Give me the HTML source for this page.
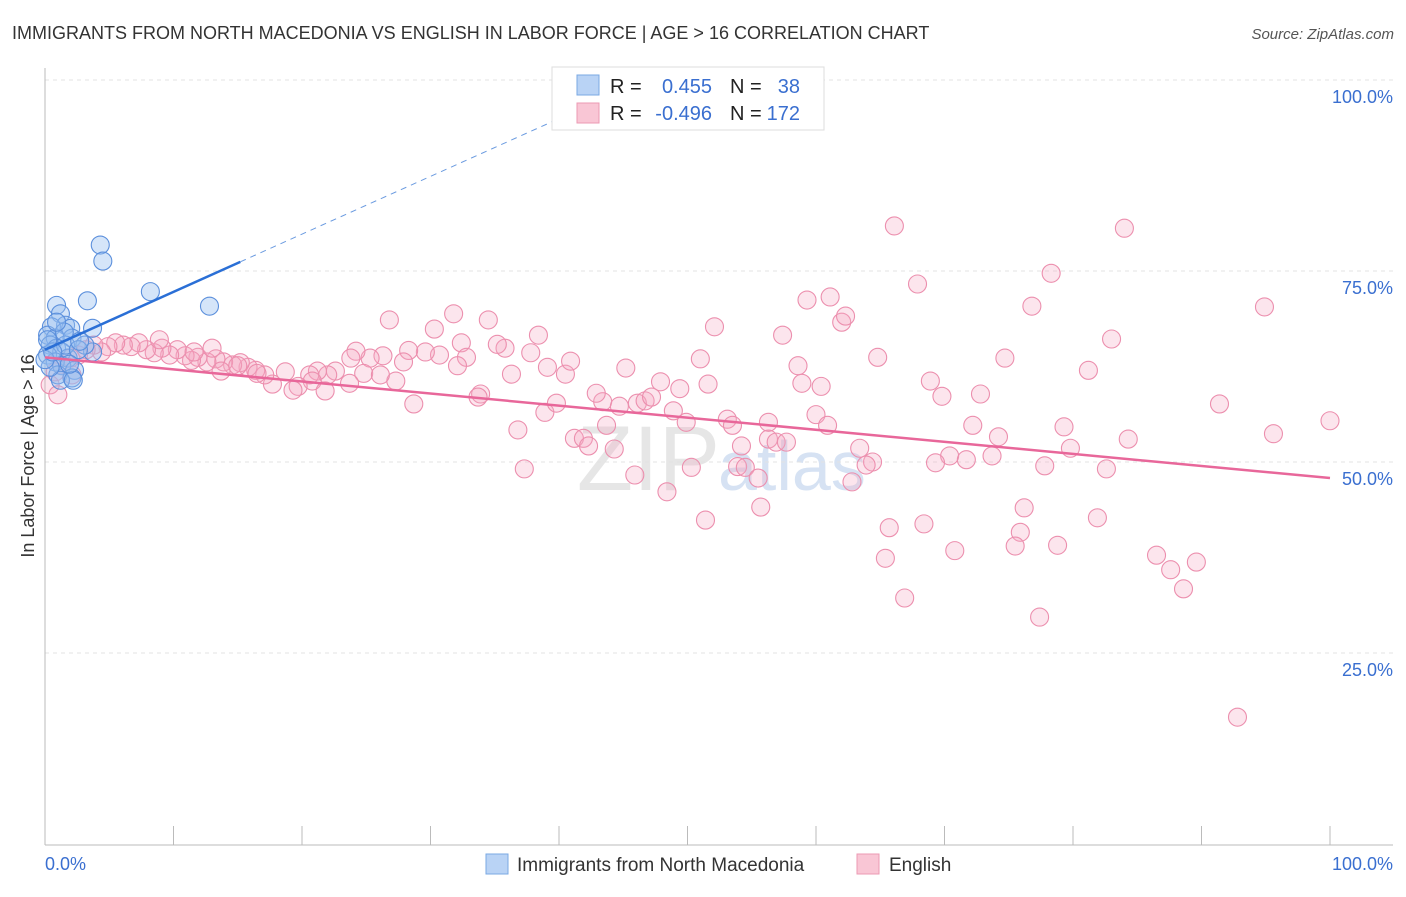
<!DOCTYPE html>
<html><head><meta charset="utf-8"><style>
body{margin:0;background:#fff;font-family:"Liberation Sans",sans-serif}
svg text{font-family:"Liberation Sans",sans-serif}
</style></head><body>
<svg id="chart" width="1406" height="892" xmlns="http://www.w3.org/2000/svg">
<text x="12" y="39" font-size="18" fill="#333">IMMIGRANTS FROM NORTH MACEDONIA VS ENGLISH IN LABOR FORCE | AGE &gt; 16 CORRELATION CHART</text>
<text x="1394" y="39" font-size="15" fill="#555" font-style="italic" text-anchor="end">Source: ZipAtlas.com</text>
<text x="720" y="490" font-size="92" fill="#e6e6e6" text-anchor="end" font-family="Liberation Serif">ZIP</text>
<text x="718" y="490" font-size="70" fill="#d6e2f3">atlas</text>
<g id="grid"></g>
<g id="axes"></g>
<g id="pts"></g>
<g id="lines"></g>
<text transform="translate(34,456) rotate(-90)" font-size="18" fill="#333" text-anchor="middle">In Labor Force | Age &gt; 16</text>
<g>
<rect x="552" y="67" width="272" height="63" fill="#fff" stroke="#ddd"/>
<rect x="577" y="75" width="22" height="20" fill="#b9d3f5" stroke="#7aa8e3"/>
<rect x="577" y="103" width="22" height="20" fill="#f9c6d5" stroke="#ec9ab3"/>
<text x="610" y="93" font-size="20" fill="#222">R = </text><text x="712" y="93" font-size="20" fill="#3a6fd0" text-anchor="end">0.455</text>
<text x="730" y="93" font-size="20" fill="#222">N = </text><text x="800" y="93" font-size="20" fill="#3a6fd0" text-anchor="end">38</text>
<text x="610" y="120" font-size="20" fill="#222">R = </text><text x="712" y="120" font-size="20" fill="#3a6fd0" text-anchor="end">-0.496</text>
<text x="730" y="120" font-size="20" fill="#222">N = </text><text x="800" y="120" font-size="20" fill="#3a6fd0" text-anchor="end">172</text>
</g>
<g>
<rect x="486" y="854" width="22" height="20" fill="#b9d3f5" stroke="#7aa8e3"/>
<text x="517" y="871" font-size="19" fill="#333">Immigrants from North Macedonia</text>
<rect x="857" y="854" width="22" height="20" fill="#f9c6d5" stroke="#ec9ab3"/>
<text x="889" y="871" font-size="19" fill="#333">English</text>
</g>
</svg>
<script>
const blueX=[4.3,4.5,8.2,12.8,3.3,0.9,1.2,1.6,2.0,3.7,0.5,0.2,0.8,2.1,0.4,0.9,1.3,0.2,1.8,0.8,1.3,2.3,1.0,2.1,1.2,2.2,3.7,3.1,0.4,1.6,2.6,0,0.6,1.9,1.5,0.9,2.7,0.2];
const blueY=[78.4,76.3,72.3,70.4,71.1,70.5,69.4,67.9,67.5,67.5,67.7,66.6,66.2,66.2,65.3,64.9,64.4,64.0,63.6,63.1,62.6,62.0,61.4,61.0,60.7,60.7,64.4,65.3,62.4,65.3,64.7,63.4,64.4,62.8,67.0,68.3,65.8,66.0];
const pinkX=[66.1,84.0,78.3,67.9,76.8,94.9,59.3,61.1,62.0,62.3,52.1,57.4,83.0,64.8,74.7,81.2,68.9,69.8,72.8,91.4,95.6,100,79.3,72.2,74.2,84.3,79.8,73.7,70.4,71.7,69.3,77.8,82.6,63.4,64.4,63.9,62.8,76.2,81.9,68.4,65.7,75.9,78.8,75.5,70.8,65.4,86.5,87.6,89.6,88.6,66.9,77.4,92.8,56.3,54.2,56.9,57.7,60.0,60.9,58.6,58.9,60.4,53.1,53.5,56.3,53.9,54.5,55.5,55.7,51.4,48.4,50.3,45.9,37.3,36.8,41.2,41.9,42.3,44.3,43.7,38.9,39.8,43.4,44.7,46.1,46.7,47.2,48.9,49.9,42.9,47.9,49.4,51.6,51.0,45.2,40.5,40.9,39.1,37.8,38.4,35.8,35.2,36.3,33.9,33.7,31.8,34.5,30.3,26.8,32.4,32.8,32.1,30.7,29.6,28.3,27.9,26.3,25.3,24.2,23.8,24.8,23.7,27.3,28.7,26.1,22.6,22.0,21.2,20.6,20.8,19.7,19.3,21.8,17.7,18.7,17.1,16.4,15.8,15.2,14.6,13.9,13.3,12.6,11.9,11.4,10.9,10.3,9.7,9.1,8.5,7.9,7.3,6.7,6.1,5.5,4.9,4.4,3.8,3.2,2.6,2.0,1.3,0.8,0.4,1.0,2.1,13.0,11.6,8.9,16.5,13.7,15.0];
const pinkY=[80.9,80.6,74.7,73.3,70.4,70.3,71.2,71.6,68.3,69.1,67.7,66.6,66.1,63.7,63.6,62.0,60.6,58.6,58.9,57.6,53.7,55.4,54.6,54.8,53.3,53.0,51.8,50.8,50.8,50.3,49.9,49.5,49.1,51.8,50.0,49.6,47.4,44.0,42.7,41.9,41.4,40.8,39.1,39.0,38.4,37.4,37.8,35.9,36.9,33.4,32.2,29.7,16.6,53.0,52.1,52.6,52.6,56.2,54.8,62.6,60.3,59.9,55.6,54.8,55.2,49.4,49.3,47.9,44.1,42.4,46.1,49.3,48.3,49.1,54.2,53.1,53.1,52.1,51.7,54.8,56.5,57.7,57.9,57.3,57.7,58.0,58.5,56.7,55.2,59.0,60.5,59.6,60.2,63.5,62.3,61.5,63.2,62.4,64.3,66.6,64.9,65.4,61.5,58.9,58.5,69.4,68.6,67.4,68.6,65.6,63.7,62.6,64.0,64.4,64.6,63.1,63.9,63.6,64.5,63.6,61.6,60.3,60.6,57.6,61.4,61.9,61.4,61.9,61.4,60.6,59.9,59.4,59.3,60.2,61.8,61.4,62.0,62.4,63.0,62.7,63.1,63.5,63.1,63.7,63.3,63.9,64.7,64.0,64.9,64.3,64.7,65.6,65.1,65.3,65.6,65.1,64.4,65.3,64.7,64.0,63.6,62.7,61.8,60.1,58.8,61.4,64.9,64.4,66.0,61.6,61.9,62.6];
const blueTrend=[[0,64.7],[15.2,76.2],[41,95.7]];
const pinkTrend=[[0,63.7],[100,47.9]];
const yTicks=[100,75,50,25];
const yTickLabels=["100.0%","75.0%","50.0%","25.0%"];
const xTicks=[0,10,20,30,40,50,60,70,80,90,100];

const X=v=>45+v*12.85, Y=v=>844-v*7.64;
const NS="http://www.w3.org/2000/svg";
function mk(tag,attrs,parent){const e=document.createElementNS(NS,tag);for(const k in attrs)e.setAttribute(k,attrs[k]);document.getElementById(parent).appendChild(e);return e;}
yTicks.forEach((t,i)=>{
 const g=mk('line',{x1:45,x2:1393,y1:Y(t),y2:Y(t),stroke:'#e3e3e3','stroke-dasharray':'4,4'},'grid');
 
 
 const l=mk('text',{x:1393,y:Y(t)+23,'font-size':18,fill:'#3a6fd0','text-anchor':'end'},'grid');
 l.textContent=yTickLabels[i];
 
 
});
const ax=mk('line',{x1:45,x2:45,y1:68,y2:845,stroke:'#bbb'},'axes');


const bx=mk('line',{x1:45,x2:1393,y1:845,y2:845,stroke:'#bbb'},'axes');


xTicks.forEach(t=>{
 const tk=mk('line',{x1:X(t),x2:X(t),y1:826,y2:845,stroke:'#bbb'},'axes');
 
 
});
const x0=mk('text',{x:45,y:870,'font-size':18,fill:'#3a6fd0'},'axes');x0.textContent='0.0%';


const x1=mk('text',{x:1393,y:870,'font-size':18,fill:'#3a6fd0','text-anchor':'end'},'axes');x1.textContent='100.0%';


pinkX.forEach((v,i)=>{
 const c=mk('circle',{cx:X(v),cy:Y(pinkY[i]),r:9,fill:'rgba(246,170,195,0.3)',stroke:'#ec8fae','stroke-width':1.1},'pts');
 
 
});
blueX.forEach((v,i)=>{
 const c=mk('circle',{cx:X(v),cy:Y(blueY[i]),r:9,fill:'rgba(150,190,240,0.4)',stroke:'#5b8fdc','stroke-width':1.1},'pts');
 
 
});
const bl=mk('line',{x1:X(blueTrend[0][0]),y1:Y(blueTrend[0][1]),x2:X(blueTrend[1][0]),y2:Y(blueTrend[1][1]),stroke:'#2a6fd6','stroke-width':2.5},'lines');


const bd=mk('line',{x1:X(blueTrend[1][0]),y1:Y(blueTrend[1][1]),x2:X(blueTrend[2][0]),y2:Y(blueTrend[2][1]),stroke:'#6b9be0','stroke-width':1,'stroke-dasharray':'6,5'},'lines');


const pl=mk('line',{x1:X(pinkTrend[0][0]),y1:Y(pinkTrend[0][1]),x2:X(pinkTrend[1][0]),y2:Y(pinkTrend[1][1]),stroke:'#e8679a','stroke-width':2.5},'lines');


</script>
</body></html>
